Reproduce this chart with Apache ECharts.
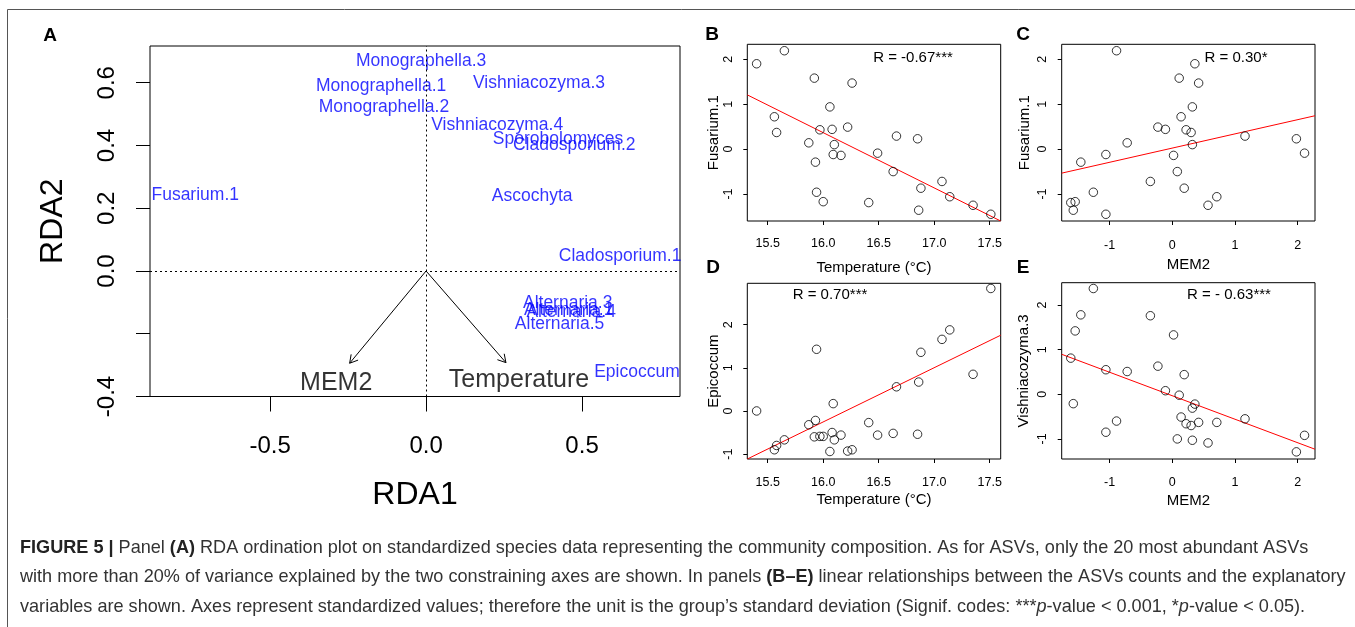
<!DOCTYPE html>
<html>
<head>
<meta charset="utf-8">
<script src="https://cdn.jsdelivr.net/npm/echarts@6/dist/echarts.min.js"></script>
<style>html,body{margin:0;padding:0;background:#fff;}#c{width:1355px;height:627px;}</style>
</head>
<body>
<div id="c"></div>
<script>
// ---------- Panel A: RDA ordination ----------
const speciesNames = ['Monographella.3','Monographella.1','Monographella.2','Vishniacozyma.3','Vishniacozyma.4',
  'Sporobolomyces','Cladosporium.2','Ascochyta','Fusarium.1','Cladosporium.1',
  'Alternaria.3','Alternaria.1','Alternaria.4','Alternaria.5','Epicoccum'];
const speciesRDA1 = [-0.016,-0.144,-0.135,0.362,0.228,0.423,0.475,0.340,-0.740,0.622,0.454,0.457,0.465,0.428,0.676];
const speciesRDA2 = [0.669,0.589,0.522,0.598,0.464,0.419,0.400,0.237,0.243,0.048,-0.102,-0.125,-0.131,-0.170,-0.323];
const envNames = ['MEM2','Temperature'];
const envRDA1 = [-0.245, 0.256];
const envRDA2 = [-0.294, -0.292];
const envLabelRDA1 = [-0.288, 0.298];
const envLabelRDA2 = [-0.358, -0.349];
const rda1Ticks = [-0.5, 0, 0.5];
const rda2Ticks = [-0.4, -0.2, 0, 0.2, 0.4, 0.6];
const rda2Labels = [-0.4, 0, 0.2, 0.4, 0.6];

// ---------- Panels B-E: per-sample standardized values ----------
const temperature = [15.40,15.56,15.58,15.65,15.87,15.92,15.93,15.94,15.97,16.00,16.06,16.08,16.09,16.10,
  16.16,16.22,16.26,16.41,16.49,16.63,16.66,16.85,16.86,16.88,17.07,17.14,17.35,17.51];
const mem2 = [0.36,0.14,0.30,-0.89,-0.72,0.11,-1.46,-1.26,0.22,-1.55,0.32,-0.11,-1.06,0.32,
  0.02,-0.23,0.42,-1.62,2.11,0.08,1.16,1.98,-1.58,0.19,-0.35,0.71,0.57,-1.06];
const fusarium1 = [1.90,0.72,0.37,2.19,0.14,1.58,-0.29,-0.96,0.43,-1.17,0.94,0.44,-0.12,0.10,
  -0.14,0.49,1.47,-1.19,-0.09,-0.50,0.29,0.23,-1.36,-0.87,-0.72,-1.06,-1.25,-1.45];
const epicoccum = [0.00,-0.90,-0.80,-0.67,-0.32,-0.60,-0.22,1.43,-0.59,-0.59,-0.94,-0.50,0.17,-0.67,
  -0.56,-0.93,-0.90,-0.27,-0.56,-0.52,0.56,-0.54,0.67,1.36,1.66,1.88,0.85,2.84];
const vishniacozyma3 = [-0.22,-0.51,-0.70,-0.60,0.51,-0.02,1.78,2.37,-0.66,1.42,-0.31,0.08,0.55,-1.03,
  1.33,0.63,-0.63,0.81,-0.92,-1.00,-0.55,-1.29,-0.21,0.44,1.76,-0.63,-1.09,-0.85];

// fitted regression lines (end points)
const fitB = [[15.316, 1.207], [17.599, -1.600]];
const fitC = [[-1.765, -0.535], [2.277, 0.743]];
const fitD = [[15.316, -1.114], [17.599, 1.756]];
const fitE = [[-1.765, 0.896], [2.277, -1.231]];
const rValues = ['R = -0.67***', 'R = 0.30*', 'R = 0.70***', 'R = - 0.63***'];
const tempTicks = [15.5, 16.0, 16.5, 17.0, 17.5];
const memTicks = [-1, 0, 1, 2];
const stdTicks = [-1, 0, 1, 2];

const zip = (a, b) => a.map((v, i) => [v, b[i]]);
const FONT = "'Liberation Sans', Arial, Helvetica, sans-serif";
const CAPFONT = "'Liberation Sans', Arial, Helvetica, sans-serif";

function xAx(idx, min, max, ticks, fmt, name, nameGap, labelSize, nameSize, margin, tickLen) {
  return {
    gridIndex: idx, type: 'value', min: min, max: max, position: 'bottom',
    axisLine: {show: false, onZero: false}, splitLine: {show: false},
    axisTick: {show: true, customValues: ticks, length: tickLen, lineStyle: {color: '#000'}},
    axisLabel: {customValues: ticks, formatter: fmt, fontSize: labelSize, color: '#000', fontFamily: FONT, margin: margin},
    name: name, nameLocation: 'middle', nameGap: nameGap,
    nameTextStyle: {fontSize: nameSize, color: '#000', fontFamily: FONT}
  };
}
function yAx(idx, min, max, ticks, labels, fmt, name, nameGap, labelSize, nameSize, margin, tickLen) {
  return {
    gridIndex: idx, type: 'value', min: min, max: max, position: 'left',
    axisLine: {show: false, onZero: false}, splitLine: {show: false},
    axisTick: {show: true, customValues: ticks, length: tickLen, lineStyle: {color: '#000'}},
    axisLabel: {customValues: labels, formatter: fmt, rotate: 90, fontSize: labelSize, color: '#000', fontFamily: FONT, margin: margin},
    name: name, nameLocation: 'middle', nameGap: nameGap, nameRotate: 90,
    nameTextStyle: {fontSize: nameSize, color: '#000', fontFamily: FONT}
  };
}
const f1 = v => v.toFixed(1);
const f0 = v => String(Math.round(v));

const gridBase = {show: true, borderColor: '#000', borderWidth: 1, backgroundColor: 'transparent', containLabel: false};

function scatterPanel(idx, data) {
  return {
    type: 'scatter', xAxisIndex: idx, yAxisIndex: idx, data: data,
    symbol: 'circle', symbolSize: 8.5, silent: true,
    itemStyle: {color: 'rgba(0,0,0,0)', borderColor: '#000', borderWidth: 1}
  };
}
function fitLine(idx, data) {
  return {
    type: 'line', xAxisIndex: idx, yAxisIndex: idx, data: data, symbol: 'none', silent: true,
    lineStyle: {color: '#ff0000', width: 1}, clip: true, z: 1
  };
}

const option = {
  animation: false,
  textStyle: {fontFamily: FONT},
  grid: [
    Object.assign({left: 150, top: 46, width: 530, height: 350.5}, gridBase),
    Object.assign({left: 747.3, top: 44.3, width: 253.4, height: 176.7}, gridBase),
    Object.assign({left: 1061.7, top: 44.3, width: 253.3, height: 176.7}, gridBase),
    Object.assign({left: 747.3, top: 283.3, width: 253.4, height: 175.7}, gridBase),
    Object.assign({left: 1061.7, top: 282.7, width: 253.3, height: 176.3}, gridBase)
  ],
  xAxis: [
    xAx(0, -0.885, 0.814, rda1Ticks, f1, 'RDA1', 83, 24, 32, 38, 15),
    xAx(1, 15.316, 17.599, tempTicks, f1, 'Temperature (°C)', 39, 12.5, 15, 16, 4),
    xAx(2, -1.765, 2.277, memTicks, f0, 'MEM2', 36, 12.5, 15, 18, 4),
    xAx(3, 15.316, 17.599, tempTicks, f1, 'Temperature (°C)', 33, 12.5, 15, 17, 4),
    xAx(4, -1.765, 2.277, memTicks, f0, 'MEM2', 34, 12.5, 15, 17, 4)
  ],
  yAxis: [
    yAx(0, -0.4, 0.717, rda2Ticks, rda2Labels, f1, 'RDA2', 81, 24, 32, 31, 14),
    yAx(1, -1.6, 2.333, stdTicks, stdTicks, f0, 'Fusarium.1', 25, 12.5, 15, 12, 4),
    yAx(2, -1.6, 2.333, stdTicks, stdTicks, f0, 'Fusarium.1', 29, 12.5, 15, 13, 4),
    yAx(3, -1.114, 2.96, stdTicks, stdTicks, f0, 'Epicoccum', 25, 12.5, 15, 12, 4),
    yAx(4, -1.45, 2.5, stdTicks, stdTicks, f0, 'Vishniacozyma.3', 30, 12.5, 15, 13, 4)
  ],
  series: [
    // dotted zero lines
    {
      type: 'scatter', xAxisIndex: 0, yAxisIndex: 0, data: [], silent: true,
      markLine: {
        silent: true, symbol: 'none', label: {show: false},
        lineStyle: {color: '#000', type: [2, 3], width: 1},
        data: [{xAxis: 0}, {yAxis: 0}]
      }
    },
    // species labels
    {
      type: 'scatter', xAxisIndex: 0, yAxisIndex: 0, silent: true,
      data: speciesNames.map((n, i) => ({name: n, value: [speciesRDA1[i], speciesRDA2[i]]})),
      symbolSize: 1, itemStyle: {color: 'rgba(0,0,0,0)'},
      label: {show: true, position: 'inside', formatter: p => p.name, color: '#0000ff',
        fontSize: 17.5, fontFamily: FONT, align: 'center', verticalAlign: 'middle'},
      labelLayout: {hideOverlap: false}
    },
    // environmental arrows
    {
      type: 'custom', xAxisIndex: 0, yAxisIndex: 0, silent: true,
      data: zip(envRDA1, envRDA2),
      renderItem: function (params, api) {
        const p0 = api.coord([0, 0]);
        const p1 = api.coord([api.value(0), api.value(1)]);
        const ang = Math.atan2(p1[1] - p0[1], p1[0] - p0[0]);
        const L = 9, a = Math.PI / 6;
        const h1 = [p1[0] - L * Math.cos(ang - a), p1[1] - L * Math.sin(ang - a)];
        const h2 = [p1[0] - L * Math.cos(ang + a), p1[1] - L * Math.sin(ang + a)];
        return {
          type: 'group',
          children: [
            {type: 'line', shape: {x1: p0[0], y1: p0[1], x2: p1[0], y2: p1[1]}, style: {stroke: '#000', lineWidth: 1}},
            {type: 'polyline', shape: {points: [h1, p1, h2]}, style: {stroke: '#000', lineWidth: 1, fill: null}}
          ]
        };
      }
    },
    // environmental labels
    {
      type: 'scatter', xAxisIndex: 0, yAxisIndex: 0, silent: true,
      data: envNames.map((n, i) => ({name: n, value: [envLabelRDA1[i], envLabelRDA2[i]]})),
      symbolSize: 1, itemStyle: {color: 'rgba(0,0,0,0)'},
      label: {show: true, position: 'inside', formatter: p => p.name, color: '#000',
        fontSize: 25, fontFamily: FONT, align: 'center', verticalAlign: 'middle'}
    },
    // panels B-E
    fitLine(1, fitB), scatterPanel(1, zip(temperature, fusarium1)),
    fitLine(2, fitC), scatterPanel(2, zip(mem2, fusarium1)),
    fitLine(3, fitD), scatterPanel(3, zip(temperature, epicoccum)),
    fitLine(4, fitE), scatterPanel(4, zip(mem2, vishniacozyma3))
  ],
  title: [{
    left: 20, top: 533, padding: 0,
    text: '{b|FIGURE 5 |} Panel {b|(A)} RDA ordination plot on standardized species data representing the community composition. As for ASVs, only the 20 most abundant ASVs\n' +
          'with more than 20% of variance explained by the two constraining axes are shown. In panels {b|(B–E)} linear relationships between the ASVs counts and the explanatory\n' +
          'variables are shown. Axes represent standardized values; therefore the unit is the group’s standard deviation (Signif. codes: ***{i|p}-value < 0.001, *{i|p}-value < 0.05).',
    textStyle: {
      fontSize: 18.1, fontWeight: 'normal', color: '#333', fontFamily: CAPFONT, lineHeight: 29.5,
      rich: {
        b: {fontWeight: 'bold', fontSize: 18.1, color: '#222', lineHeight: 29.5, fontFamily: CAPFONT},
        i: {fontStyle: 'italic', fontSize: 18.1, color: '#333', lineHeight: 29.5, fontFamily: CAPFONT}
      }
    }
  }],
  graphic: [
    {type: 'line', shape: {x1: 7.5, y1: 9.5, x2: 1355, y2: 9.5}, style: {stroke: '#555', lineWidth: 1}, silent: true},
    {type: 'line', shape: {x1: 7.5, y1: 9.5, x2: 7.5, y2: 627}, style: {stroke: '#555', lineWidth: 1}, silent: true},
    {type: 'text', x: 50, y: 36, style: {text: 'A', font: 'bold 19px ' + FONT, fill: '#000', align: 'center', verticalAlign: 'middle'}},
    {type: 'text', x: 712, y: 35, style: {text: 'B', font: 'bold 19px ' + FONT, fill: '#000', align: 'center', verticalAlign: 'middle'}},
    {type: 'text', x: 1023, y: 35, style: {text: 'C', font: 'bold 19px ' + FONT, fill: '#000', align: 'center', verticalAlign: 'middle'}},
    {type: 'text', x: 713, y: 268, style: {text: 'D', font: 'bold 19px ' + FONT, fill: '#000', align: 'center', verticalAlign: 'middle'}},
    {type: 'text', x: 1023, y: 268, style: {text: 'E', font: 'bold 19px ' + FONT, fill: '#000', align: 'center', verticalAlign: 'middle'}},
    {type: 'text', x: 913, y: 58, style: {text: rValues[0], font: '15px ' + FONT, fill: '#000', align: 'center', verticalAlign: 'middle'}},
    {type: 'text', x: 1236, y: 58, style: {text: rValues[1], font: '15px ' + FONT, fill: '#000', align: 'center', verticalAlign: 'middle'}},
    {type: 'text', x: 830, y: 295, style: {text: rValues[2], font: '15px ' + FONT, fill: '#000', align: 'center', verticalAlign: 'middle'}},
    {type: 'text', x: 1229, y: 295, style: {text: rValues[3], font: '15px ' + FONT, fill: '#000', align: 'center', verticalAlign: 'middle'}}
  ]
};

const chart = echarts.init(document.getElementById('c'), null, {renderer: 'canvas'});
chart.setOption(option);
</script>
</body>
</html>
